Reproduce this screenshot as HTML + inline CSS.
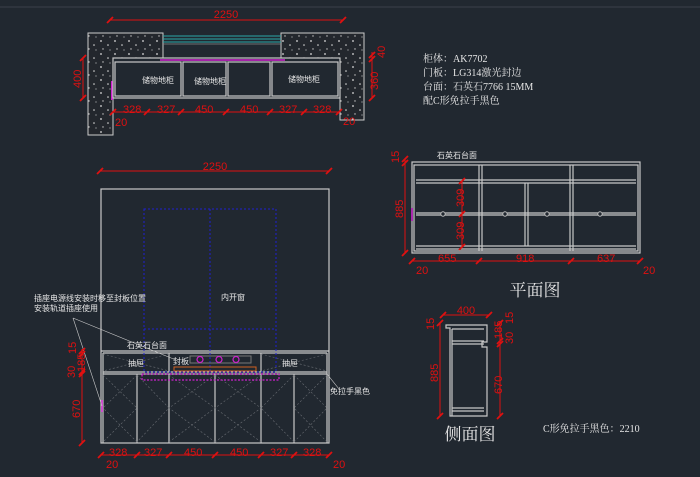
<!DOCTYPE html>
<html><head><meta charset="utf-8"><style>
html,body{margin:0;padding:0;background:#212830;}
svg{display:block}
text{font-family:"Liberation Sans","Noto Sans CJK SC",sans-serif;}
.w{fill:#e6e6e6;font-size:8px}
.r{fill:#e01010;font-size:11px}
.d{stroke:#e01010;stroke-width:1;fill:none}
.t{stroke:#e01010;stroke-width:1.8}
.g{stroke:#c8c8c8;stroke-width:1.2;fill:none}
.x{stroke:#6a6e74;stroke-width:0.6;stroke-dasharray:2 2;fill:none}
</style></head><body>
<svg width="700" height="477" viewBox="0 0 700 477" xmlns="http://www.w3.org/2000/svg">
<defs>
<pattern id="st" width="14" height="13" patternUnits="userSpaceOnUse">
<rect width="14" height="13" fill="#23272d"/>
<circle cx="3" cy="2" r="0.9" fill="#ddd"/><circle cx="10" cy="6" r="0.8" fill="#ddd"/>
<circle cx="5" cy="10" r="0.7" fill="#ccc"/><circle cx="12" cy="11" r="0.6" fill="#bbb"/>
</pattern>
</defs>
<rect width="700" height="477" fill="#212830"/>
<line x1="0" y1="7" x2="700" y2="7" stroke="#3a404a" stroke-width="1"/>

<!-- TOP PLAN -->
<line class="d" x1="110" y1="20" x2="343" y2="20"/>
<line class="t" x1="107" y1="23" x2="113" y2="17"/><line class="t" x1="340" y1="23" x2="346" y2="17"/>
<text class="r" x="226" y="18" text-anchor="middle">2250</text>
<path d="M88 33 H163 V58 H113 V135 H88 Z" fill="url(#st)" stroke="#ccc" stroke-width="1"/>
<path d="M281 33 H364 V120 H340 V58 H281 Z" fill="url(#st)" stroke="#ccc" stroke-width="1"/>
<line x1="163" y1="36" x2="281" y2="36" stroke="#2aa8a8" stroke-width="1"/>
<line x1="163" y1="39" x2="281" y2="39" stroke="#2aa8a8" stroke-width="1"/>
<line x1="163" y1="42" x2="281" y2="42" stroke="#2aa8a8" stroke-width="1"/>
<line x1="163" y1="44" x2="281" y2="44" stroke="#888" stroke-width="0.8"/>
<line x1="160" y1="60" x2="285" y2="60" stroke="#d020d0" stroke-width="1.5"/>
<line x1="112" y1="81" x2="112" y2="100" stroke="#d020d0" stroke-width="2"/>
<rect class="g" x="113" y="58" width="227" height="40"/>
<rect class="g" x="115" y="62" width="66" height="34"/>
<rect class="g" x="183" y="62" width="43" height="34"/>
<rect class="g" x="228" y="62" width="42" height="34"/>
<rect class="g" x="272" y="62" width="66" height="34"/>
<text class="w" x="142" y="83">储物地柜</text><text class="w" x="194" y="84">储物地柜</text><text class="w" x="288" y="82">储物地柜</text>
<line class="d" x1="113" y1="112" x2="339" y2="112"/>
<g class="t"><line x1="110" y1="115" x2="116" y2="109"/><line x1="144" y1="115" x2="150" y2="109"/><line x1="178" y1="115" x2="184" y2="109"/><line x1="223" y1="115" x2="229" y2="109"/><line x1="267" y1="115" x2="273" y2="109"/><line x1="301" y1="115" x2="307" y2="109"/><line x1="336" y1="115" x2="342" y2="109"/></g>
<g class="r"><text x="123" y="113">328</text><text x="157" y="113">327</text><text x="195" y="113">450</text><text x="240" y="113">450</text><text x="279" y="113">327</text><text x="313" y="113">328</text></g>
<text class="r" x="115" y="126">20</text><text class="r" x="343" y="125">20</text>
<line class="d" x1="83" y1="58" x2="83" y2="98"/>
<line class="t" x1="80" y1="61" x2="86" y2="55"/><line class="t" x1="80" y1="101" x2="86" y2="95"/>
<text class="r" transform="translate(81,88) rotate(-90)">400</text>
<line class="d" x1="372" y1="52" x2="372" y2="98"/>
<line class="t" x1="369" y1="58" x2="375" y2="52"/><line class="t" x1="369" y1="62" x2="375" y2="56"/><line class="t" x1="369" y1="101" x2="375" y2="95"/>
<text class="r" transform="translate(378,90) rotate(-90)">360</text>
<text class="r" transform="translate(385,58) rotate(-90)">40</text>

<!-- spec text -->
<g fill="#e6e6e6" font-size="10" font-family="Liberation Serif,'Noto Serif CJK SC',serif">
<text x="423" y="62" style="font-family:'Liberation Serif','Noto Serif CJK SC',serif">柜体：AK7702</text>
<text x="423" y="76" style="font-family:'Liberation Serif','Noto Serif CJK SC',serif">门板：LG314激光封边</text>
<text x="423" y="90" style="font-family:'Liberation Serif','Noto Serif CJK SC',serif">台面：石英石7766  15MM</text>
<text x="423" y="104" style="font-family:'Liberation Serif','Noto Serif CJK SC',serif">配C形免拉手黑色</text>
</g>

<!-- ELEVATION -->
<line class="d" x1="100" y1="171" x2="329" y2="171"/>
<line class="t" x1="97" y1="174" x2="103" y2="168"/><line class="t" x1="326" y1="174" x2="332" y2="168"/>
<text class="r" x="215" y="170" text-anchor="middle">2250</text>
<rect class="g" x="101" y="189" width="228" height="254"/>
<line class="g" x1="101" y1="351" x2="329" y2="351"/>
<line class="g" x1="103" y1="353" x2="327" y2="353"/>
<line class="g" x1="103" y1="372" x2="327" y2="372"/>
<line class="g" x1="103" y1="374" x2="327" y2="374"/>
<line class="g" x1="103" y1="353" x2="103" y2="443"/><line class="g" x1="327" y1="353" x2="327" y2="443"/>
<line class="g" x1="169" y1="353" x2="169" y2="372"/><line class="g" x1="261" y1="353" x2="261" y2="372"/>
<g class="g"><line x1="137" y1="374" x2="137" y2="443"/><line x1="169" y1="374" x2="169" y2="443"/><line x1="215" y1="374" x2="215" y2="443"/><line x1="261" y1="374" x2="261" y2="443"/><line x1="294" y1="374" x2="294" y2="443"/></g>
<g class="x">
<path d="M103 354 L169 371 M169 354 L103 371 M261 354 L327 371 M327 354 L261 371"/>
<path d="M103 375 L137 408 L103 442 M137 375 L103 408 M137 442 L103 408"/>
<path d="M137 375 L169 408 L137 442"/>
<path d="M169 375 L215 408 L169 442 M215 375 L169 408 L215 442"/>
<path d="M215 375 L261 408 L215 442 M261 375 L215 408 L261 442"/>
<path d="M294 375 L261 408 L294 442"/>
<path d="M294 375 L327 408 L294 442 M327 375 L294 408 L327 442"/>
</g>
<g stroke="#2020d0" stroke-width="1" stroke-dasharray="2 2" fill="none">
<rect x="144" y="209" width="132" height="163"/>
<line x1="210" y1="209" x2="210" y2="372"/>
<line x1="144" y1="329" x2="276" y2="329"/>
</g>
<rect x="142" y="374" width="137" height="6" fill="none" stroke="#d020d0" stroke-width="1.2" stroke-dasharray="2 1.5"/>
<rect x="190" y="356" width="61" height="7" fill="none" stroke="#777" stroke-width="1"/>
<g fill="none" stroke="#d020d0" stroke-width="1.2"><circle cx="200" cy="359.5" r="3"/><circle cx="219" cy="359.5" r="3"/><circle cx="236" cy="359.5" r="3"/></g>
<rect x="174" y="367" width="82" height="4" fill="none" stroke="#d06020" stroke-width="1"/>
<line x1="102" y1="400" x2="102" y2="412" stroke="#d020d0" stroke-width="1.5"/>
<text class="w" x="221" y="300">内开窗</text>
<text class="w" x="127" y="348">石英石台面</text>
<text class="w" x="128" y="366">抽屉</text><text class="w" x="282" y="366">抽屉</text>
<text class="w" x="173" y="364">封板</text>
<text class="w" x="330" y="394">免拉手黑色</text>
<text class="w" x="34" y="301">插座电源线安装时移至封板位置</text>
<text class="w" x="34" y="311">安装轨道插座使用</text>
<line x1="73" y1="318" x2="176" y2="360" stroke="#ccc" stroke-width="0.6"/>
<line x1="73" y1="318" x2="102" y2="406" stroke="#ccc" stroke-width="0.6"/>
<line x1="327" y1="374" x2="339" y2="389" stroke="#ccc" stroke-width="0.6"/>
<line class="d" x1="82" y1="349" x2="82" y2="443"/>
<g class="t"><line x1="79" y1="354" x2="85" y2="348"/><line x1="79" y1="357" x2="85" y2="351"/><line x1="79" y1="375" x2="85" y2="369"/><line x1="79" y1="377" x2="85" y2="371"/><line x1="79" y1="446" x2="85" y2="440"/></g>
<text class="r" transform="translate(76,354) rotate(-90)">15</text>
<text class="r" transform="translate(85,372) rotate(-90)">185</text>
<text class="r" transform="translate(75,378) rotate(-90)">30</text>
<text class="r" transform="translate(80,418) rotate(-90)">670</text>
<line class="d" x1="101" y1="455" x2="329" y2="455"/>
<g class="t"><line x1="98" y1="458" x2="104" y2="452"/><line x1="134" y1="458" x2="140" y2="452"/><line x1="166" y1="458" x2="172" y2="452"/><line x1="212" y1="458" x2="218" y2="452"/><line x1="258" y1="458" x2="264" y2="452"/><line x1="291" y1="458" x2="297" y2="452"/><line x1="326" y1="458" x2="332" y2="452"/></g>
<g class="r"><text x="109" y="456">328</text><text x="144" y="456">327</text><text x="184" y="456">450</text><text x="230" y="456">450</text><text x="270" y="456">327</text><text x="303" y="456">328</text></g>
<text class="r" x="106" y="468">20</text><text class="r" x="333" y="468">20</text>

<!-- PLAN VIEW -->
<text class="w" x="437" y="158">石英石台面</text>
<rect class="g" x="412" y="162" width="228" height="91"/>
<rect class="g" x="414" y="165" width="224" height="86"/>
<g class="g">
<line x1="479" y1="165" x2="479" y2="251"/><line x1="482" y1="165" x2="482" y2="251"/>
<line x1="570" y1="165" x2="570" y2="251"/><line x1="573" y1="165" x2="573" y2="251"/>
<line x1="416" y1="180" x2="636" y2="180"/><line x1="416" y1="183" x2="636" y2="183"/>
<line x1="416" y1="213" x2="636" y2="213"/><line x1="416" y1="215" x2="636" y2="215"/>
<line x1="416" y1="246" x2="636" y2="246"/><line x1="416" y1="249" x2="636" y2="249"/>
<line x1="525" y1="183" x2="525" y2="246"/><line x1="528" y1="183" x2="528" y2="246"/>
</g>
<g fill="#212830" stroke="#bbb" stroke-width="1"><circle cx="443" cy="214" r="2.2"/><circle cx="505" cy="214" r="2.2"/><circle cx="547" cy="214" r="2.2"/><circle cx="600" cy="214" r="2.2"/></g>
<line x1="412" y1="208" x2="412" y2="221" stroke="#d020d0" stroke-width="1.5"/>
<line class="d" x1="405" y1="159" x2="405" y2="253"/>
<g class="t"><line x1="402" y1="162" x2="408" y2="156"/><line x1="402" y1="166" x2="408" y2="160"/><line x1="402" y1="256" x2="408" y2="250"/></g>
<text class="r" transform="translate(399,163) rotate(-90)">15</text>
<text class="r" transform="translate(403,218) rotate(-90)">885</text>
<line class="d" x1="462" y1="181" x2="462" y2="247"/>
<g class="t"><line x1="459" y1="184" x2="465" y2="178"/><line x1="459" y1="217" x2="465" y2="211"/><line x1="459" y1="250" x2="465" y2="244"/></g>
<text class="r" transform="translate(464,207) rotate(-90)">309</text>
<text class="r" transform="translate(464,240) rotate(-90)">309</text>
<line class="d" x1="412" y1="261" x2="640" y2="261"/>
<g class="t"><line x1="409" y1="264" x2="415" y2="258"/><line x1="476" y1="264" x2="482" y2="258"/><line x1="568" y1="264" x2="574" y2="258"/><line x1="637" y1="264" x2="643" y2="258"/></g>
<g class="r"><text x="438" y="262">655</text><text x="516" y="262">918</text><text x="597" y="262">637</text></g>
<text class="r" x="416" y="274">20</text><text class="r" x="643" y="274">20</text>
<text x="535" y="296" fill="#e6e6e6" font-size="17" text-anchor="middle" style="font-family:'Noto Serif CJK SC',serif">平面图</text>

<!-- SIDE VIEW -->
<line class="d" x1="443" y1="315" x2="489" y2="315"/>
<line class="t" x1="440" y1="318" x2="446" y2="312"/><line class="t" x1="486" y1="318" x2="492" y2="312"/>
<text class="r" x="466" y="314" text-anchor="middle">400</text>
<path class="g" d="M446 325 H487 V342 H482 V347 H487 V416 H450 V328 H446 Z"/>
<line class="g" x1="452" y1="329" x2="484" y2="329"/>
<line class="g" x1="452" y1="341" x2="484" y2="341"/>
<line class="g" x1="452" y1="344" x2="484" y2="344"/>
<line class="g" x1="452" y1="408" x2="484" y2="408"/>
<line class="g" x1="452" y1="411" x2="484" y2="411"/>
<line class="g" x1="452" y1="329" x2="452" y2="416"/>
<line class="d" x1="440" y1="322" x2="440" y2="416"/>
<g class="t"><line x1="437" y1="326" x2="443" y2="320"/><line x1="437" y1="419" x2="443" y2="413"/></g>
<text class="r" transform="translate(434,330) rotate(-90)">15</text>
<text class="r" transform="translate(438,382) rotate(-90)">885</text>
<line class="d" x1="500" y1="322" x2="500" y2="416"/>
<g class="t"><line x1="497" y1="326" x2="503" y2="320"/><line x1="497" y1="344" x2="503" y2="338"/><line x1="497" y1="347" x2="503" y2="341"/><line x1="497" y1="419" x2="503" y2="413"/></g>
<text class="r" transform="translate(513,324) rotate(-90)">15</text>
<text class="r" transform="translate(502,339) rotate(-90)">185</text>
<text class="r" transform="translate(513,344) rotate(-90)">30</text>
<text class="r" transform="translate(502,394) rotate(-90)">670</text>
<text x="470" y="440" fill="#e6e6e6" font-size="17" text-anchor="middle" style="font-family:'Noto Serif CJK SC',serif">侧面图</text>
<text x="543" y="432" fill="#e6e6e6" font-size="10" style="font-family:'Liberation Serif','Noto Serif CJK SC',serif">C形免拉手黑色：2210</text>
</svg>
</body></html>
